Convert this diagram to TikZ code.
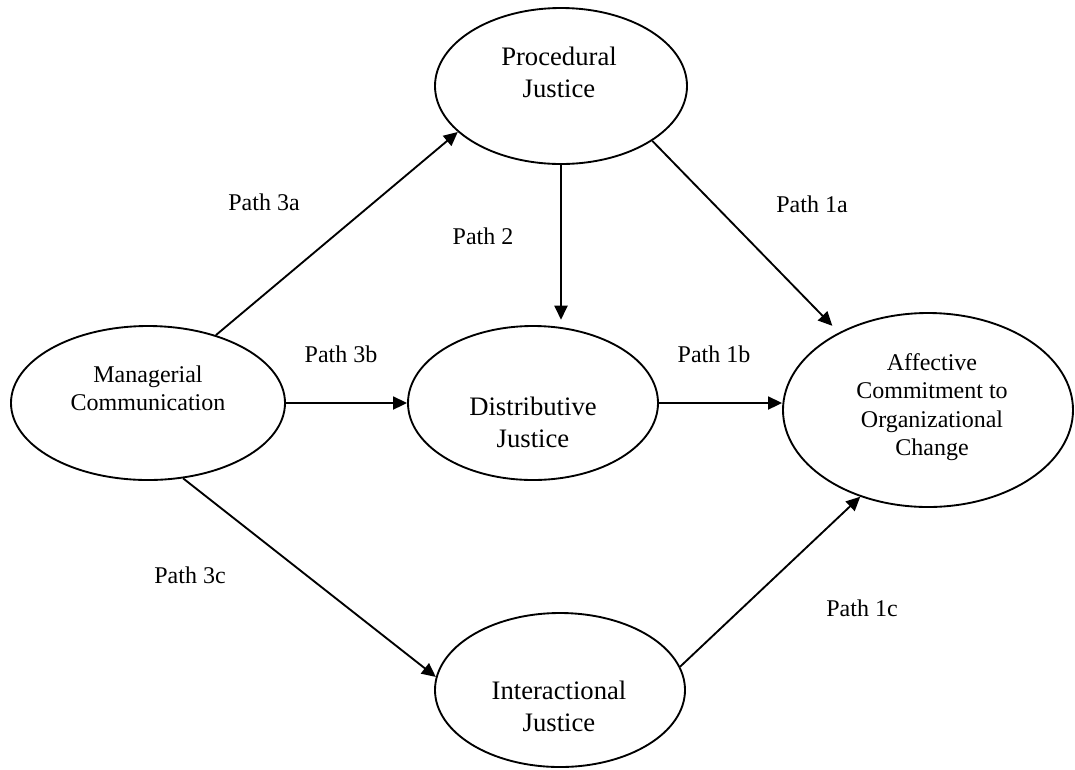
\documentclass[tikz,border=0pt]{standalone}
\usepackage{fontspec}
\setmainfont{Liberation Serif}
\usetikzlibrary{arrows.meta,shapes.geometric}
\begin{document}
\begin{tikzpicture}[x=0.75pt,y=-0.75pt,
  oval/.style={draw, ellipse, line width=1.4pt, inner sep=0pt},
  bigtxt/.style={align=center, inner sep=0pt, font=\fontsize{20}{24}\selectfont},
  smalltxt/.style={align=center, inner sep=0pt, font=\fontsize{18}{21}\selectfont},
  lbl/.style={inner sep=0pt, anchor=base, font=\fontsize{18}{21}\selectfont},
  arr/.style={line width=1.4pt, -{Triangle[length=10.5pt,width=9.75pt]}}]
\path[use as bounding box] (0,0) rectangle (1075,769);

% constructs
\node[oval, minimum width=189pt, minimum height=117pt] (pj) at (561,86) {};
\node[oval, minimum width=187.5pt, minimum height=115.5pt] (dj) at (533,403) {};
\node[oval, minimum width=187.5pt, minimum height=115.5pt] (ij) at (560,690) {};
\node[oval, minimum width=205.5pt, minimum height=115.5pt] (mc) at (148,403) {};
\node[oval, minimum width=217.5pt, minimum height=145.5pt] (ae) at (928,410) {};

% construct names
\node[bigtxt] (pjt) at (559,72) {Procedural\\Justice};
\node[bigtxt] (djt) at (533,422) {Distributive\\Justice};
\node[bigtxt] (ijt) at (559,706) {Interactional\\Justice};
\node[smalltxt] (mct) at (148,388) {Managerial\\Communication};
\node[smalltxt, font=\fontsize{18}{21.2}\selectfont] (aet) at (932,407) {Affective\\Commitment to\\Organizational\\Change};

% paths
\draw[arr] (mc.45) -- (pj.204);
\draw[arr, shorten >=4pt] (pj.south) -- (pj.south |- dj.north);
\draw[arr, shorten >=7pt] (pj.-31) -- (ae.139);
\draw[arr] (mc.east) -- (mc.east -| dj.west);
\draw[arr] (dj.east) -- (dj.east -| ae.west);
\draw[arr] (mc.-65) -- (ij.174);
\draw[arr] (ij.11) -- (ae.232);

% path labels
\node[lbl] (l3a) at (264,210) {Path 3a};
\node[lbl] (l2) at (483,244) {Path 2};
\node[lbl] (l1a) at (812,212) {Path 1a};
\node[lbl] (l3b) at (341,362) {Path 3b};
\node[lbl] (l1b) at (714,362) {Path 1b};
\node[lbl] (l3c) at (190,583) {Path 3c};
\node[lbl] (l1c) at (862,616) {Path 1c};
\end{tikzpicture}
\end{document}
